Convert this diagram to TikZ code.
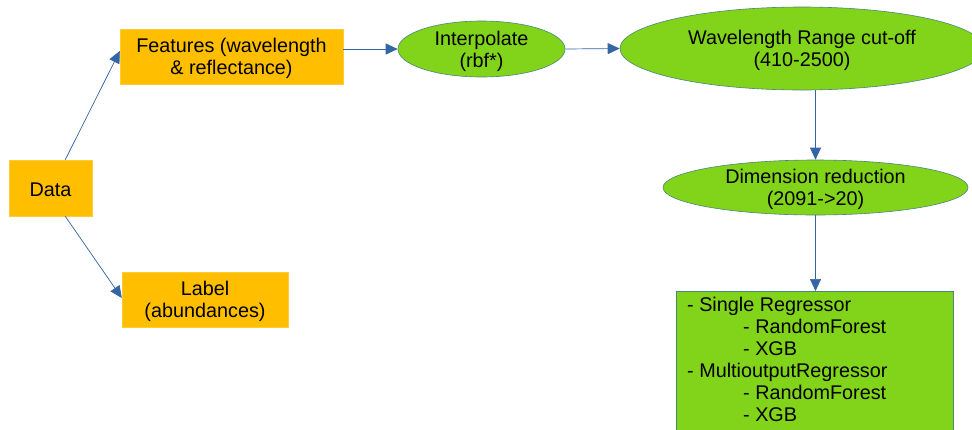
\documentclass[tikz,border=0pt]{standalone}
\usepackage{fontspec}
\setmainfont{Liberation Sans}
\usetikzlibrary{arrows.meta,calc,shapes.geometric}
\definecolor{orng}{HTML}{FFBF00}
\definecolor{grn}{HTML}{81D41A}
\definecolor{arrblue}{HTML}{3465A4}
\begin{document}
\begin{tikzpicture}[x=1pt,y=-1pt,
  every node/.style={font=\fontsize{19.8}{22}\selectfont, inner sep=0pt, align=center},
  obox/.style={rectangle, fill=orng, draw=orng!80!white},
  gell/.style={ellipse, fill=grn, draw=arrblue!70!grn, line width=0.6pt},
  gbox/.style={rectangle, fill=grn, draw=arrblue!70!grn, line width=0.6pt},
  arr/.style={draw=arrblue, line width=0.7pt, -{Triangle[length=12pt,width=11pt]}},
  lowtext/.style={text depth=0pt}
]
\clip (0,0) rectangle (972,429);
\fill[white] (0,0) rectangle (972,429);

\node[obox, minimum width=83pt, minimum height=56pt, text height=17pt, text depth=0pt] (data) at (50.5,188) {Data};
\node[obox, minimum width=223pt, minimum height=55pt, lowtext] (feat) at (231.5,56.5) {Features (wavelength\\ \& reflectance)};
\node[obox, minimum width=166pt, minimum height=55pt, lowtext] (label) at (205,299.5) {Label\\(abundances)};
\node[gell, minimum width=167pt, minimum height=56pt, lowtext] (interp) at (481.5,49) {Interpolate\\(rbf*)};
\node[gell, minimum width=364pt, minimum height=83pt, lowtext] (wave) at (802,48.5) {Wavelength Range cut-off\\(410-2500)};
\node[gell, minimum width=305pt, minimum height=55pt, lowtext] (dim) at (815.5,187.5) {Dimension reduction\\(2091->20)};
\node[gbox, minimum width=277pt, minimum height=160pt, anchor=north west] (reg) at (676,291) {};
\node[anchor=north west, align=left] (regtext) at (687,297) {- Single Regressor\\
\hspace*{56pt}- RandomForest\\
\hspace*{56pt}- XGB\\
- MultioutputRegressor\\
\hspace*{56pt}- RandomForest\\
\hspace*{56pt}- XGB};

\draw[arr] ([xshift=-27pt]data.north east) -- ([yshift=5.5pt]feat.west);
\draw[arr] ([xshift=-27pt]data.south east) -- ([yshift=1.5pt]label.west);
\draw[arr] (feat.east |- interp.west) -- (interp.west);
\draw[arr] (interp.east) -- (wave.west);
\draw[arr] (dim.north |- wave.south) -- (dim.north);
\draw[arr] (dim.south) -- (reg.north -| dim.south);
\end{tikzpicture}
\end{document}
